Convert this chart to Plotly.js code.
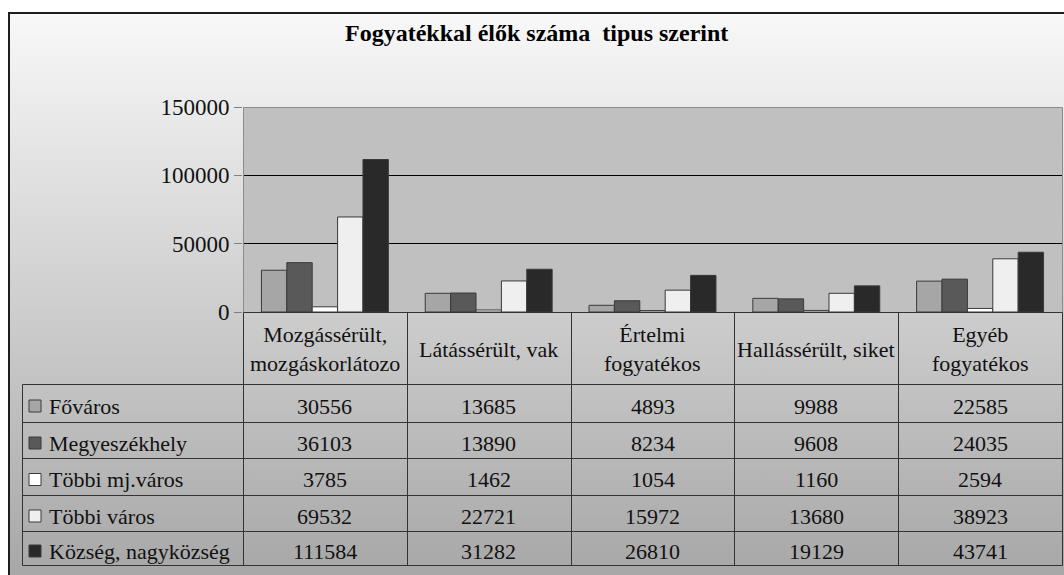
<!DOCTYPE html>
<html>
<head>
<meta charset="utf-8">
<script src="https://cdn.plot.ly/plotly-3.0.1.min.js"></script>
<style>
  html, body { margin:0; padding:0; background:#ffffff; width:1064px; height:575px; overflow:hidden; }
  #bg { position:absolute; left:8px; top:12px; width:1060px; height:570px;
        border-left:2px solid #1e1e1e; border-top:2px solid #1e1e1e;
        background:linear-gradient(to bottom, #f8f8f8 0%, #a6a6a6 100%); }
  #plotbg { position:absolute; left:243px; top:107px; width:819px; height:205px; background:#c0c0c0; }
  #chart { position:absolute; left:0; top:0; width:1064px; height:575px; }
</style>
</head>
<body>
<div id="bg"></div>
<div id="plotbg"></div>
<div id="chart"></div>
<script>
// ---- data ----
const chartTitle = "Fogyatékkal élők száma  tipus szerint";
const categories = ["Mozgássérült,<br>mozgáskorlátozo", "Látássérült, vak", "Értelmi<br>fogyatékos", "Hallássérült, siket", "Egyéb<br>fogyatékos"];
const seriesNames = ["Főváros", "Megyeszékhely", "Többi mj.város", "Többi város", "Község, nagyközség"];
const fovaros       = [30556, 13685, 4893, 9988, 22585];
const megyeszekhely = [36103, 13890, 8234, 9608, 24035];
const tobbiMjVaros  = [3785, 1462, 1054, 1160, 2594];
const tobbiVaros    = [69532, 22721, 15972, 13680, 38923];
const kozseg        = [111584, 31282, 26810, 19129, 43741];
const yTicks = [0, 50000, 100000, 150000];

const seriesValues = [fovaros, megyeszekhely, tobbiMjVaros, tobbiVaros, kozseg];
const seriesColors = ["#a6a6a6", "#595959", "#ffffff", "#efefef", "#292929"];

// ---- geometry (pixels) ----
const W = 1064, H = 575;
const plotL = 243, plotR = 1062, plotT = 107, plotB = 312;
const plotW = plotR - plotL;
const rowLines = [384, 422, 458, 495, 531, 565];
const tableLeft = 22;
const serif = "Liberation Serif";
const lineCol = "#333333";
const h = v => Math.round(v) + 0.5;

const idx = categories.map((c, i) => i);

// bars on the main axes
const traces = seriesNames.map((n, s) => ({
  type: "bar", name: n, x: idx, y: seriesValues[s],
  xaxis: "x", yaxis: "y",
  marker: { color: seriesColors[s], line: { color: "#3a3a3a", width: 1 } },
  hoverinfo: "skip"
}));

// frame of the plot area (grey) on the full-page pixel axes
const bx = [], by = [];
const segB = (x0, y0, x1, y1) => { bx.push(h(x0), h(x1), null); by.push(h(y0), h(y1), null); };
segB(plotL, plotT, plotL, plotB);
segB(plotL, plotT, plotR, plotT);
segB(plotR, plotT, plotR, plotB);
traces.push({ type: "scatter", mode: "lines", x: bx, y: by, xaxis: "x2", yaxis: "y2",
  line: { color: "#8c8c8c", width: 1 }, hoverinfo: "skip", connectgaps: false });

// data-table grid lines
const tx = [], ty = [];
const segT = (x0, y0, x1, y1) => { tx.push(h(x0), h(x1), null); ty.push(h(y0), h(y1), null); };
const lastRow = rowLines[rowLines.length - 1];
segT(plotL, plotB, plotR, plotB);
for (let i = 0; i <= categories.length; i++) {
  const xp = plotL + i * plotW / categories.length;
  segT(xp, plotB, xp, lastRow);
}
segT(tableLeft, rowLines[0], tableLeft, lastRow);
rowLines.forEach(r => segT(tableLeft, r, plotR, r));
traces.push({ type: "scatter", mode: "lines", x: tx, y: ty, xaxis: "x2", yaxis: "y2",
  line: { color: lineCol, width: 1 }, hoverinfo: "skip", connectgaps: false });

// legend keys
const rowCenters = seriesNames.map((n, s) => (rowLines[s] + rowLines[s + 1]) / 2 + 3);
traces.push({ type: "scatter", mode: "markers", x: seriesNames.map(() => 35), y: rowCenters, xaxis: "x2", yaxis: "y2",
  marker: { symbol: "square", size: 12, color: seriesColors, line: { color: "#3a3a3a", width: 1 } }, hoverinfo: "skip" });

const annotations = [];
annotations.push({ xref: "x2", yref: "y2", x: 536, y: 33, text: "<b>" + chartTitle + "</b>", showarrow: false,
  font: { family: serif, size: 24, color: "#000" } });

categories.forEach((c, i) => {
  annotations.push({ xref: "x", yref: "y2", x: i, y: 349, text: c, showarrow: false,
    font: { family: serif, size: 22, color: "#111" } });
});

seriesNames.forEach((n, s) => {
  const cy = rowCenters[s];
  annotations.push({ xref: "x2", yref: "y2", x: 47, y: cy, text: n, showarrow: false, xanchor: "left",
    font: { family: serif, size: 22, color: "#111" } });
  seriesValues[s].forEach((v, i) => {
    annotations.push({ xref: "x", yref: "y2", x: i, y: cy, text: String(v), showarrow: false,
      font: { family: serif, size: 22, color: "#111" } });
  });
});

const layout = {
  width: W, height: H,
  font: { family: serif, size: 22, color: "#111" },
  paper_bgcolor: "rgba(0,0,0,0)",
  plot_bgcolor: "rgba(0,0,0,0)",
  margin: { l: 0, r: 0, t: 0, b: 0, pad: 0 },
  showlegend: false,
  hovermode: false,
  bargap: 0.225,
  xaxis: { domain: [plotL / W, plotR / W], range: [-0.5, categories.length - 0.5], anchor: "y",
    showticklabels: false, showgrid: false, zeroline: false },
  yaxis: { domain: [(H - plotB) / H, (H - plotT) / H], range: [0, 150000], anchor: "x",
    tickvals: yTicks, ticktext: yTicks.map(String), ticks: "outside", ticklen: 8, tickcolor: "#808080",
    tickfont: { family: serif, size: 23, color: "#111" },
    gridcolor: "#000000", zeroline: false },
  xaxis2: { domain: [0, 1], range: [0, W], anchor: "y2", visible: false },
  yaxis2: { domain: [0, 1], range: [H, 0], anchor: "x2", visible: false },
  annotations: annotations
};

Plotly.newPlot("chart", traces, layout, { displayModeBar: false });
</script>
</body>
</html>
